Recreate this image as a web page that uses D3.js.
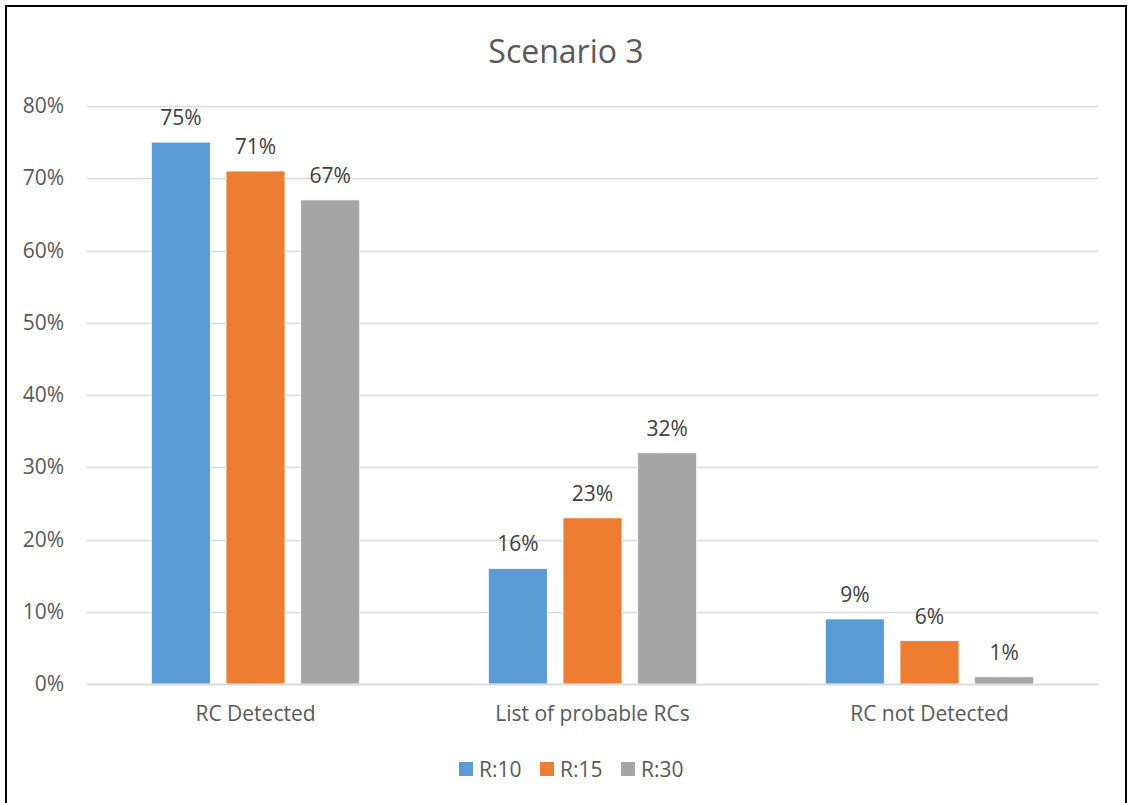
<!DOCTYPE html>
<html>
<head>
<meta charset="utf-8">
<script src="https://cdn.jsdelivr.net/npm/d3@7"></script>
<style>
  html, body { margin: 0; padding: 0; background: #fff; }
  svg { display: block; }
  text { font-family: "Open Sans", "Noto Sans", sans-serif; }
</style>
</head>
<body>
<svg id="chart" width="1128" height="803"></svg>
<script>
// Share of cases per outcome, for each search radius
const categories = ["RC Detected", "List of probable RCs", "RC not Detected"];
const seriesNames = ["R:10", "R:15", "R:30"];
const r10 = [0.75, 0.16, 0.09];
const r15 = [0.71, 0.23, 0.06];
const r30 = [0.67, 0.32, 0.01];
const yTicks = [0, 0.1, 0.2, 0.3, 0.4, 0.5, 0.6, 0.7, 0.8];
const colors = ["#5B9BD5", "#ED7D31", "#A5A5A5"];

const seriesValues = [r10, r15, r30];
const svg = d3.select("#chart");
const FS = 21;

// outer frame
svg.append("rect")
  .attr("x", 6).attr("y", 6)
  .attr("width", 1120).attr("height", 820)
  .attr("fill", "#fff")
  .attr("stroke", "#000").attr("stroke-width", 2);

const plot = { left: 87, right: 1098, top: 106, bottom: 684 };

const x0 = d3.scaleBand().domain(categories).range([plot.left, plot.right]).padding(0);
const groupWidth = 208.4;
const x1 = d3.scaleBand().domain(seriesNames)
  .range([-groupWidth / 2, groupWidth / 2])
  .paddingInner(0.21).paddingOuter(0);
const y = d3.scaleLinear().domain([0, 0.8]).range([plot.bottom, plot.top]);

// title
svg.append("text")
  .attr("x", 566).attr("y", 63)
  .attr("text-anchor", "middle")
  .attr("font-size", 32)
  .attr("fill", "#595959")
  .text("Scenario 3");

// gridlines
svg.append("g")
  .selectAll("line")
  .data(yTicks)
  .join("line")
  .attr("x1", plot.left).attr("x2", plot.right)
  .attr("y1", d => Math.round(y(d)) + 0.5)
  .attr("y2", d => Math.round(y(d)) + 0.5)
  .attr("stroke", "#D9D9D9").attr("stroke-width", 1.5);

// y axis labels
const yAxis = d3.axisLeft(y)
  .tickValues(yTicks)
  .tickFormat(d3.format(".0%"))
  .tickSize(0).tickPadding(0);
const gy = svg.append("g")
  .attr("transform", `translate(${plot.left - 23},0)`)
  .call(yAxis);
gy.select(".domain").remove();
gy.selectAll("text")
  .attr("font-size", FS)
  .attr("fill", "#595959")
  .attr("font-family", "\"Open Sans\", sans-serif");

// bars
const groups = svg.append("g")
  .selectAll("g")
  .data(categories)
  .join("g")
  .attr("transform", c => `translate(${x0(c) + x0.bandwidth() / 2},0)`);

groups.selectAll("rect")
  .data((c, ci) => seriesNames.map((s, si) => ({ s, si, v: seriesValues[si][ci] })))
  .join("rect")
  .attr("x", d => x1(d.s))
  .attr("width", x1.bandwidth())
  .attr("y", d => y(d.v))
  .attr("height", d => y(0) - y(d.v))
  .attr("fill", d => colors[d.si])
  .attr("stroke", "#fff").attr("stroke-width", 0.8);

// value labels
groups.selectAll("text.val")
  .data((c, ci) => seriesNames.map((s, si) => ({ s, si, v: seriesValues[si][ci] })))
  .join("text")
  .attr("class", "val")
  .attr("x", d => x1(d.s) + x1.bandwidth() / 2)
  .attr("y", d => y(d.v) - 17)
  .attr("text-anchor", "middle")
  .attr("font-size", FS)
  .attr("fill", "#404040")
  .text(d => d3.format(".0%")(d.v));

// x axis baseline
svg.append("line")
  .attr("x1", plot.left).attr("x2", plot.right)
  .attr("y1", plot.bottom + 0.5).attr("y2", plot.bottom + 0.5)
  .attr("stroke", "#D9D9D9").attr("stroke-width", 1.5);

// category labels
const xAxis = d3.axisBottom(x0).tickSize(0).tickPadding(0);
const gx = svg.append("g")
  .attr("transform", `translate(0,${plot.bottom + 22})`)
  .call(xAxis);
gx.select(".domain").remove();
gx.selectAll("text")
  .attr("font-size", FS)
  .attr("fill", "#595959")
  .attr("font-family", "\"Open Sans\", sans-serif");

// legend
const legendX = [459, 540, 621];
const legend = svg.append("g")
  .selectAll("g")
  .data(seriesNames)
  .join("g")
  .attr("transform", (d, i) => `translate(${legendX[i]},762)`);
legend.append("rect")
  .attr("width", 14).attr("height", 14)
  .attr("fill", (d, i) => colors[i]);
legend.append("text")
  .attr("x", 20).attr("y", 14.5)
  .attr("font-size", FS)
  .attr("fill", "#595959")
  .text(d => d);
</script>
</body>
</html>
